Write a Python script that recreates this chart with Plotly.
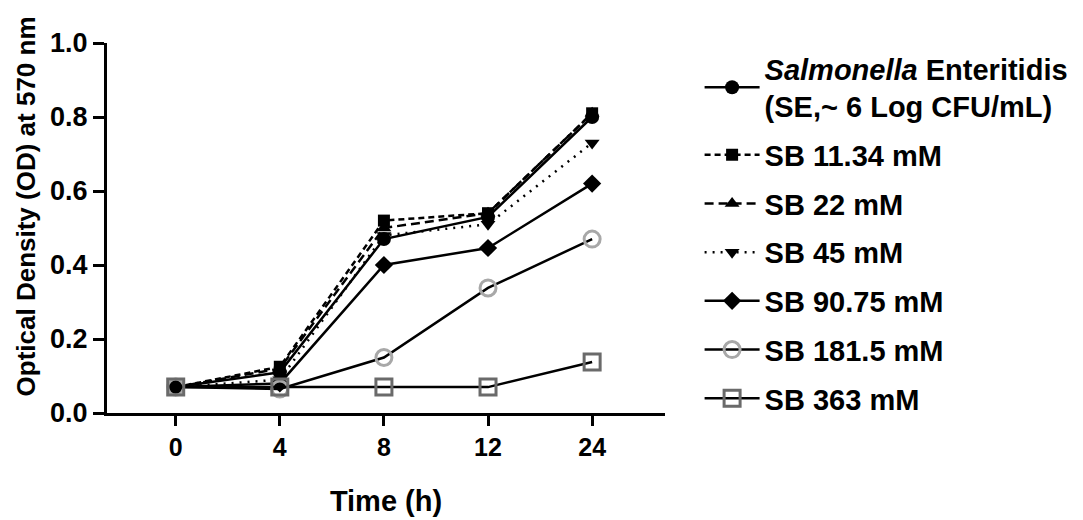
import plotly.graph_objects as go

time_labels = ["0", "4", "8", "12", "24"]

se_ctrl = [0.07, 0.11, 0.47, 0.53, 0.80]
sb_11_34 = [0.07, 0.125, 0.52, 0.54, 0.81]
sb_22 = [0.07, 0.12, 0.50, 0.54, 0.81]
sb_45 = [0.07, 0.09, 0.48, 0.51, 0.73]
sb_90_75 = [0.07, 0.08, 0.40, 0.446, 0.62]
sb_181_5 = [0.07, 0.065, 0.15, 0.338, 0.47]
sb_363 = [0.07, 0.07, 0.07, 0.07, 0.138]

series = [
    ("<i>Salmonella</i> Enteritidis<br>(SE,~ 6 Log CFU/mL)", se_ctrl, "solid", "circle", "black", 14, 0),
    ("SB 11.34 mM", sb_11_34, "6px,4px", "square", "black", 12, 0),
    ("SB 22 mM", sb_22, "9px,5px", "triangle-up", "black", 13, 0),
    ("SB 45 mM", sb_45, "2px,6px", "triangle-down", "black", 13, 0),
    ("SB 90.75 mM", sb_90_75, "solid", "diamond", "black", 14, 0),
    ("SB 181.5 mM", sb_181_5, "solid", "circle-open", "#a8a8a8", 16, 3),
    ("SB 363 mM", sb_363, "solid", "square-open", "#6a6a6a", 16, 3),
]

fig = go.Figure()
for i, (name, vals, dash, sym, mcol, msize, mlw) in enumerate(series):
    fig.add_trace(go.Scatter(
        x=time_labels, y=vals, name=name, mode="lines+markers",
        legendgroup=f"g{i}",
        line=dict(color="black", width=2.5, dash=dash),
        marker=dict(symbol=sym, color=mcol, size=msize,
                    line=dict(color=mcol, width=mlw)),
    ))

fig.update_layout(
    width=1083, height=520,
    margin=dict(l=99, r=426, t=35, b=115, autoexpand=False),
    plot_bgcolor="white", paper_bgcolor="white",
    font=dict(family="Liberation Sans, Arial, sans-serif", size=24, color="black", weight="bold"),
    legend=dict(x=1.062, y=1.0, xanchor="left", yanchor="top",
                font=dict(size=29, weight="bold"), tracegroupgap=8,
                itemwidth=55, bgcolor="rgba(0,0,0,0)", maxheight=500),
    showlegend=True,
    annotations=[dict(
        text="Optical Density (OD) at 570 nm", textangle=-90,
        xref="paper", yref="paper", x=-0.146, y=0.557,
        xanchor="center", yanchor="middle", showarrow=False,
        font=dict(size=26, weight="bold"),
    )],
)
fig.update_xaxes(
    type="category", range=[-0.66, 4.70], automargin=False,
    showline=True, linecolor="black", linewidth=3,
    ticks="outside", ticklen=10, tickwidth=3, tickcolor="black",
    showgrid=False, zeroline=False,
    title=dict(text="Time (h)", font=dict(size=29, weight="bold"), standoff=31),
    tickfont=dict(size=25, weight="bold"),
)
fig.update_yaxes(
    range=[0, 1.0], tickvals=[0, 0.2, 0.4, 0.6, 0.8, 1.0], automargin=False,
    tickformat=".1f",
    showline=True, linecolor="black", linewidth=3,
    ticks="outside", ticklen=11, tickwidth=3, tickcolor="black",
    showgrid=False, zeroline=False,
    tickfont=dict(size=27, weight="bold"),
)

fig.write_html("out.html")
